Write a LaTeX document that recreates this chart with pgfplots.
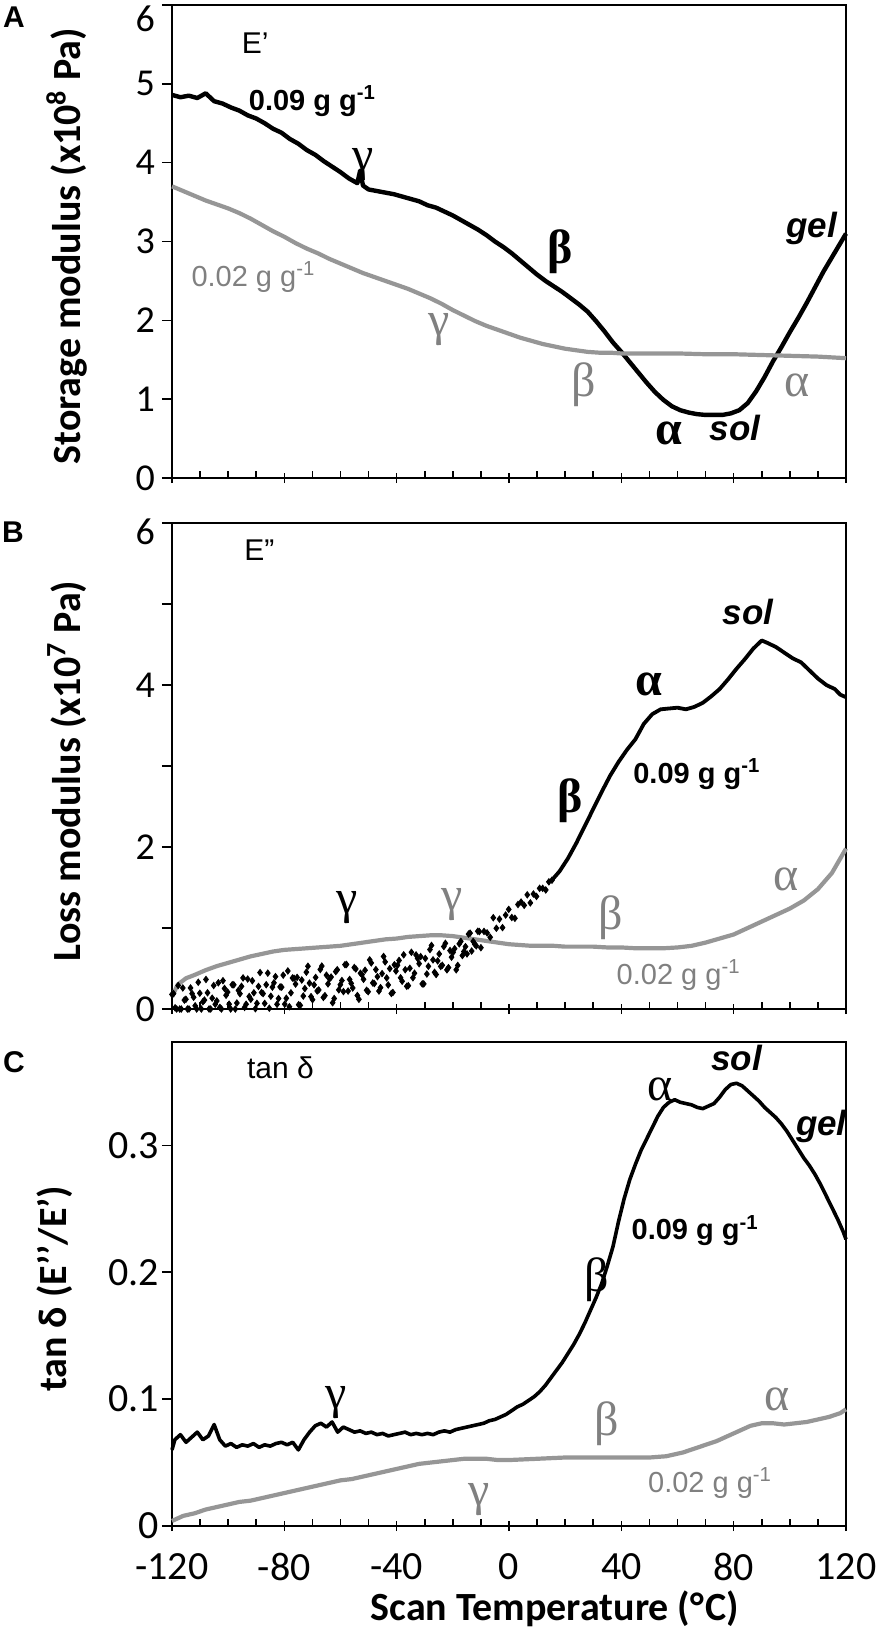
\documentclass[border=0pt]{standalone}
\usepackage{fontspec}
\setmainfont{Carlito}
\newfontfamily\arialf{Liberation Sans}
\newfontfamily\serif{Liberation Serif}
\usepackage{pgfplots}
\pgfplotsset{compat=1.18}
\definecolor{gline}{RGB}{150,150,150}
\definecolor{gtext}{RGB}{128,128,128}

\pgfplotsset{
  panel/.style={
    scale only axis, width=337pt,
    xmin=-120, xmax=120,
    xtick={-120,-80,-40,0,40,80,120},
    minor x tick num=3,
    xtick pos=left, ytick pos=left,
    tick align=outside,
    major tick length=5pt, minor tick length=3.5pt,
    major x tick style={yshift=2.5pt},
    minor x tick style={yshift=3.5pt},
    axis line style={line width=0.9pt, black},
    every tick/.append style={black, line width=0.8pt},
    tick label style={font=\fontsize{19}{19}\selectfont},
    ylabel style={font=\bfseries\fontsize{20}{22}\selectfont, at={(axis description cs:-0.156,0.49)}, anchor=center},
    clip=false,
  },
  blk/.style={black, line width=2.2pt, line join=round, no marks},
  gry/.style={gline, line width=2.1pt, line join=round, no marks},
}
\tikzset{
  gkb/.style={font=\serif\bfseries\fontsize{24}{24}\selectfont},
  gk/.style={font=\serif\fontsize{24}{24}\selectfont},
  gkg/.style={font=\serif\fontsize{24}{24}\selectfont, text=gtext},
  conc/.style={font=\arialf\bfseries\fontsize{14.5}{14.5}\selectfont},
  concg/.style={font=\arialf\fontsize{14.5}{14.5}\selectfont, text=gtext},
  solgel/.style={font=\arialf\bfseries\itshape\fontsize{17.5}{17.5}\selectfont},
  ttl/.style={font=\arialf\fontsize{15}{15}\selectfont},
  plet/.style={font=\arialf\bfseries\fontsize{15}{15}\selectfont},
}

\begin{document}
\begin{tikzpicture}
\path[use as bounding box] (0pt,0pt) rectangle (443pt,-820pt);
\node[plet] at (7pt,-8.5pt) {A};
\node[plet] at (6.5pt,-266pt) {B};
\node[plet] at (7pt,-531pt) {C};

% ---------------- Panel A ----------------
\begin{axis}[panel, at={(86pt,-2.5pt)}, anchor=north west, height=236.5pt,
  ymin=0, ymax=6, ytick={0,1,2,3,4,5},
  yticklabels={0,1,2,3,4,5},
  extra y ticks={6}, extra y tick labels={6},
  extra y tick style={yticklabel style={yshift=-7pt}},
  xticklabels={,,,,,,},
  ylabel={Storage modulus (x10\textsuperscript{8} Pa)}]
\addplot[blk] coordinates {
(-120,4.86) (-117,4.83) (-114,4.85) (-111,4.82) (-108,4.88) (-105,4.78) (-102,4.75)
(-99,4.70) (-96,4.66) (-93,4.60) (-90,4.56) (-87,4.50) (-84,4.43) (-81,4.38)
(-78,4.30) (-75,4.24) (-72,4.16) (-69,4.10) (-66,4.02) (-63,3.95) (-60,3.88)
(-57,3.80) (-54,3.74) (-53,3.90) (-52,3.71) (-50,3.66) (-47,3.64) (-44,3.62)
(-41,3.60) (-38,3.57) (-35,3.54) (-32,3.51) (-29,3.46) (-26,3.43) (-23,3.38)
(-20,3.33) (-17,3.27) (-14,3.21) (-11,3.15) (-8,3.08) (-5,3.00) (-2,2.93)
(1,2.85) (4,2.76) (7,2.67) (10,2.58) (13,2.50) (16,2.43) (19,2.36) (22,2.28)
(25,2.20) (28,2.11) (31,1.99) (34,1.86) (37,1.72) (40,1.60) (43,1.47) (46,1.34)
(49,1.21) (52,1.09) (55,0.99) (58,0.91) (61,0.86) (64,0.83) (67,0.81) (70,0.80)
(73,0.80) (76,0.80) (79,0.82) (82,0.86) (85,0.95) (88,1.10) (91,1.28) (94,1.48)
(97,1.66) (100,1.85) (103,2.03) (106,2.22) (109,2.42) (112,2.62) (115,2.80)
(118,2.98) (120,3.10)};
\addplot[gry] coordinates {
(-120,3.70) (-116,3.64) (-112,3.58) (-108,3.52) (-104,3.47) (-100,3.42) (-96,3.36)
(-92,3.29) (-88,3.21) (-84,3.13) (-80,3.06) (-76,2.98) (-72,2.91) (-68,2.85)
(-64,2.78) (-60,2.72) (-56,2.66) (-52,2.60) (-48,2.55) (-44,2.50) (-40,2.45)
(-36,2.40) (-32,2.34) (-28,2.28) (-24,2.21) (-20,2.13) (-16,2.06) (-12,1.99)
(-8,1.93) (-4,1.88) (0,1.83) (4,1.78) (8,1.74) (12,1.70) (16,1.67) (20,1.64)
(24,1.62) (28,1.60) (32,1.59) (36,1.59) (40,1.58) (50,1.58) (60,1.58) (70,1.57)
(80,1.57) (90,1.56) (100,1.55) (110,1.54) (120,1.52)};
\node[ttl] at (axis cs:-90.4,5.52) {E’};
\node[conc] at (axis cs:-70,4.78) {0.09 g g\textsuperscript{-1}};
\node[gk] at (axis cs:-52,3.97) {γ};
\node[concg] at (axis cs:-91,2.55) {0.02 g g\textsuperscript{-1}};
\node[gkg] at (axis cs:-25,1.88) {γ};
\node[gkb] at (axis cs:18.3,2.87) {β};
\node[gkg] at (axis cs:26.6,1.18) {β};
\node[gkb] at (axis cs:56.8,0.56) {α};
\node[solgel] at (axis cs:80.5,0.64) {sol};
\node[gkg] at (axis cs:102.4,1.18) {α};
\node[solgel] at (axis cs:107.7,3.16) {gel};
\end{axis}

% ---------------- Panel B ----------------
\begin{axis}[panel, at={(86pt,-261.5pt)}, anchor=north west, height=243pt,
  ymin=0, ymax=6, ytick={0,1,2,3,4,5},
  yticklabels={0,,2,,4,},
  extra y ticks={6}, extra y tick labels={6},
  extra y tick style={yticklabel style={yshift=-4.5pt}},
  xticklabels={,,,,,,},
  ylabel={Loss modulus (x10\textsuperscript{7} Pa)}]
\addplot[gry] coordinates {
(-120,0.15) (-118,0.30) (-115,0.38) (-112,0.42) (-108,0.48) (-104,0.53) (-100,0.57)
(-96,0.61) (-92,0.65) (-88,0.68) (-84,0.71) (-80,0.73) (-76,0.74) (-72,0.75)
(-68,0.76) (-64,0.77) (-60,0.78) (-56,0.80) (-52,0.82) (-48,0.84) (-44,0.86)
(-40,0.87) (-36,0.89) (-32,0.90) (-28,0.91) (-24,0.91) (-20,0.90) (-16,0.88)
(-12,0.86) (-8,0.84) (-4,0.82) (0,0.80) (4,0.79) (8,0.78) (12,0.78) (16,0.78)
(20,0.77) (25,0.77) (30,0.77) (35,0.76) (40,0.76) (45,0.75) (50,0.75) (55,0.75)
(60,0.76) (65,0.78) (70,0.82) (75,0.87) (80,0.92) (85,1.00) (90,1.08) (95,1.16)
(100,1.24) (105,1.34) (110,1.48) (115,1.68) (120,1.98)};
\addplot[only marks, mark=diamond*, mark size=1.6pt, black] coordinates {
(-120.0,0.18) (-118.9,0.015) (-117.8,0.29) (-116.7,0) (-115.6,0.11) (-114.5,0)
(-113.4,0.26) (-112.3,0.145) (-111.2,0) (-110.1,0.195) (-109.0,0.09) (-107.9,0.365)
(-106.8,0) (-105.7,0.134) (-104.6,0.059) (-103.5,0.324) (-102.4,0) (-101.3,0.254)
(-100.2,0.209) (-99.1,0) (-98.0,0.299) (-96.9,0.074) (-95.8,0.189) (-94.7,0.384)
(-93.6,0.059) (-92.5,0.154) (-91.4,0.349) (-90.3,0.004) (-89.2,0.279) (-88.1,0.204)
(-87.0,0.069) (-85.9,0.443) (-84.8,0.158) (-83.7,0.323) (-82.6,0.058) (-81.5,0.273)
(-80.4,0.418) (-79.3,0.133) (-78.2,0.028) (-77.1,0.383) (-76.0,0.308) (-74.9,0.053)
(-73.8,0.358) (-72.7,0.253) (-71.6,0.528) (-70.5,0.153) (-69.4,0.298) (-68.3,0.223)
(-67.2,0.488) (-66.1,0.143) (-65.0,0.418) (-63.9,0.372) (-62.8,0.077) (-61.7,0.462)
(-60.6,0.237) (-59.5,0.352) (-58.4,0.547) (-57.3,0.222) (-56.2,0.317) (-55.1,0.512)
(-54.0,0.167) (-52.9,0.442) (-51.8,0.367) (-50.7,0.232) (-49.6,0.607) (-48.5,0.322)
(-47.4,0.487) (-46.3,0.222) (-45.2,0.437) (-44.1,0.582) (-43.0,0.297) (-41.9,0.192)
(-40.8,0.546) (-39.7,0.54) (-38.6,0.386) (-37.5,0.669) (-36.4,0.281) (-35.3,0.503)
(-34.2,0.386) (-33.1,0.668) (-32.0,0.56) (-30.9,0.31) (-29.8,0.625) (-28.7,0.527)
(-27.6,0.785) (-26.5,0.453) (-25.4,0.594) (-24.3,0.526) (-23.2,0.771) (-22.1,0.484)
(-21.0,0.722) (-19.9,0.70) (-18.8,0.484) (-17.7,0.805) (-16.6,0.66) (-15.5,0.77)
(-14.4,0.925) (-13.3,0.716) (-12.2,0.80) (-11.1,0.96) (-10.0,0.757) (-8.9,0.958)
(-7.8,0.94) (-6.7,0.886) (-5.6,1.127) (-4.5,0.997) (-3.4,1.11) (-2.3,1.005)
(-1.2,1.16) (-0.1,1.23) (1.0,1.13) (2.1,1.12) (3.2,1.29) (4.3,1.32) (5.4,1.28)
(6.5,1.41) (7.6,1.31) (8.7,1.42) (9.8,1.39) (10.9,1.49) (12.0,1.49) (13.1,1.47)
(14.2,1.57) (15.3,1.59)
(-119.45,0.19) (-118.35,0) (-117.25,0) (-116.15,0.26) (-115.05,0.12) (-113.95,0)
(-112.85,0.19) (-111.75,0.04) (-110.65,0.33) (-109.55,0) (-108.45,0.11) (-107.35,0.20)
(-106.25,0) (-105.15,0.29) (-104.05,0.10) (-102.95,0.02) (-101.85,0.35) (-100.75,0.17)
(-99.65,0.06) (-98.55,0.30) (-97.45,0) (-96.35,0.23) (-95.25,0.28) (-94.15,0.02)
(-93.05,0.37) (-91.95,0.12) (-90.85,0.20) (-89.75,0.07) (-88.65,0.45) (-87.55,0.19)
(-86.45,0.30) (-85.35,0.01) (-84.25,0.27) (-83.15,0.40) (-82.05,0.13) (-80.95,0.27)
(-79.85,0.06) (-78.75,0.47) (-77.65,0.20) (-76.55,0.38) (-75.45,0.39) (-74.35,0.045)
(-73.25,0.16) (-72.15,0.455) (-71.05,0.32) (-69.95,0.115) (-68.85,0.39) (-67.75,0.235)
(-66.65,0.53) (-65.55,0.165) (-64.45,0.31) (-63.35,0.395) (-62.25,0.13) (-61.15,0.485)
(-60.05,0.30) (-58.95,0.215) (-57.85,0.55) (-56.75,0.365) (-55.65,0.26) (-54.55,0.495)
(-53.45,0.12) (-52.35,0.424) (-51.25,0.479) (-50.15,0.214) (-49.05,0.569) (-47.95,0.314)
(-46.85,0.399) (-45.75,0.264) (-44.65,0.649) (-43.55,0.384) (-42.45,0.499) (-41.35,0.204)
(-40.25,0.469) (-39.15,0.60) (-38.05,0.343) (-36.95,0.485) (-35.85,0.288) (-34.75,0.70)
(-33.65,0.442) (-32.55,0.625) (-31.45,0.647) (-30.35,0.31) (-29.25,0.432) (-28.15,0.734)
(-27.05,0.607) (-25.95,0.426) (-24.85,0.68) (-23.75,0.54) (-22.65,0.811) (-21.55,0.511)
(-20.45,0.64) (-19.35,0.745) (-18.25,0.538) (-17.15,0.835) (-16.05,0.71) (-14.95,0.68)
(-13.85,0.937) (-12.75,0.835) (-11.65,0.78) (-10.55,0.956)};
\addplot[black, line width=1.9pt, line join=round, no marks] coordinates {
(15,1.58) (18,1.70) (21,1.86) (24,2.05) (27,2.26) (30,2.47) (33,2.68) (36,2.88)
(39,3.05) (42,3.20) (45,3.33) (48,3.52) (51,3.64) (54,3.70) (57,3.71) (60,3.72)
(63,3.70) (66,3.73) (69,3.78) (72,3.86) (75,3.95) (78,4.07) (81,4.20) (84,4.32)
(87,4.45) (90,4.55) (92,4.52) (95,4.47) (98,4.40) (101,4.33) (104,4.28)
(107,4.18) (110,4.08) (113,4.00) (116,3.95) (118,3.88) (120,3.85)};
\node[ttl] at (axis cs:-88.9,5.66) {E”};
\node[gk] at (axis cs:-57.5,1.25) {γ};
\node[gkg] at (axis cs:-20.1,1.29) {γ};
\node[gkb] at (axis cs:21.9,2.57) {β};
\node[gkb] at (axis cs:49.7,4.01) {α};
\node[conc] at (axis cs:66.9,2.90) {0.09 g g\textsuperscript{-1}};
\node[solgel] at (axis cs:85.2,4.90) {sol};
\node[gkg] at (axis cs:36.1,1.13) {β};
\node[gkg] at (axis cs:98.8,1.60) {α};
\node[concg] at (axis cs:60.4,0.42) {0.02 g g\textsuperscript{-1}};
\end{axis}

% ---------------- Panel C ----------------
\begin{axis}[panel, at={(86pt,-521pt)}, anchor=north west, height=242pt,
  ymin=0, ymax=0.3815, ytick={0,0.1,0.2,0.3},
  yticklabels={0,0.1,0.2,0.3},
  tick label style={font=\fontsize{20}{20}\selectfont},
  yticklabel style={xshift=2pt},
  xticklabels={-120,-80,-40,0,40,80,120},
  xticklabel style={yshift=-5pt},
  ylabel style={at={(axis description cs:-0.174,0.49)}},
  ylabel={tan δ (E’’/E’)},
  xlabel={Scan Temperature (°\kern0.6pt C)},
  xlabel style={font=\bfseries\fontsize{20}{22}\selectfont, at={(axis description cs:0.568,-0.172)}, anchor=center}]
\addplot[gry] coordinates {
(-120,0.004) (-116,0.008) (-112,0.010) (-108,0.013) (-104,0.015) (-100,0.017)
(-96,0.019) (-92,0.020) (-88,0.022) (-84,0.024) (-80,0.026) (-76,0.028) (-72,0.030)
(-68,0.032) (-64,0.034) (-60,0.036) (-56,0.037) (-52,0.039) (-48,0.041) (-44,0.043)
(-40,0.045) (-36,0.047) (-32,0.049) (-28,0.050) (-24,0.051) (-20,0.052) (-16,0.053)
(-12,0.053) (-8,0.053) (-4,0.052) (0,0.052) (10,0.053) (20,0.054) (30,0.054)
(40,0.054) (50,0.054) (56,0.055) (62,0.058) (66,0.061) (70,0.064) (74,0.067)
(78,0.071) (82,0.075) (86,0.079) (90,0.081) (94,0.081) (98,0.080) (102,0.081)
(106,0.082) (110,0.084) (114,0.086) (118,0.089) (120,0.092)};
\addplot[black, line width=1.8pt, line join=round, no marks] coordinates {
(-120,0.060) (-119,0.068) (-117,0.072) (-115,0.066) (-113,0.070) (-111,0.074)
(-109,0.068) (-107,0.071) (-105,0.080) (-103,0.068) (-101,0.063) (-99,0.065)
(-97,0.062) (-95,0.064) (-93,0.063) (-91,0.065) (-89,0.062) (-87,0.064) (-85,0.063)
(-83,0.065) (-81,0.066) (-79,0.064) (-77,0.066) (-75,0.060) (-73,0.068) (-71,0.074)
(-69,0.079) (-67,0.081) (-65,0.078) (-63,0.082) (-61,0.074) (-59,0.078) (-57,0.076)
(-55,0.074) (-53,0.075) (-51,0.073) (-49,0.074) (-47,0.072) (-45,0.073) (-43,0.071)
(-41,0.072) (-39,0.073) (-37,0.074) (-35,0.072) (-33,0.073) (-31,0.072) (-29,0.073)
(-27,0.072) (-25,0.074) (-23,0.075) (-21,0.074) (-19,0.076) (-17,0.077) (-15,0.078)
(-13,0.079) (-11,0.080) (-9,0.081) (-7,0.083) (-5,0.084) (-3,0.086) (-1,0.088)
(1,0.091) (3,0.094) (5,0.096) (7,0.099) (9,0.102) (11,0.106) (13,0.111) (15,0.117)
(17,0.123) (19,0.129) (21,0.136) (23,0.143) (25,0.151) (27,0.160) (29,0.170)
(31,0.180) (33,0.191) (35,0.205) (37,0.220) (39,0.240) (41,0.258) (43,0.273)
(45,0.285) (47,0.296) (49,0.305) (51,0.314) (53,0.323) (55,0.330) (57,0.334)
(59,0.336) (61,0.334) (63,0.333) (65,0.332) (67,0.330) (69,0.329) (71,0.331)
(73,0.333) (75,0.338) (77,0.344) (79,0.348) (81,0.349) (83,0.347) (85,0.343)
(87,0.339) (89,0.335) (91,0.330) (93,0.326) (95,0.322) (97,0.317) (99,0.311)
(101,0.304) (103,0.297) (105,0.290) (107,0.284) (109,0.277) (111,0.269) (113,0.260)
(115,0.251) (117,0.242) (119,0.232) (120,0.226)};
\node[ttl] at (axis cs:-81.4,0.361) {tan δ};
\node[gk] at (axis cs:-61.7,0.097) {γ};
\node[gk] at (axis cs:31.4,0.194) {β};
\node[gk] at (axis cs:53.8,0.344) {α};
\node[solgel] at (axis cs:81.1,0.369) {sol};
\node[solgel] at (axis cs:111.2,0.315) {gel};
\node[conc] at (axis cs:66.3,0.233) {0.09 g g\textsuperscript{-1}};
\node[gkg] at (axis cs:34.9,0.081) {β};
\node[gkg] at (axis cs:95.3,0.100) {α};
\node[concg] at (axis cs:71.6,0.034) {0.02 g g\textsuperscript{-1}};
\node[gkg] at (axis cs:-10.7,0.021) {γ};
\end{axis}
\end{tikzpicture}
\end{document}
